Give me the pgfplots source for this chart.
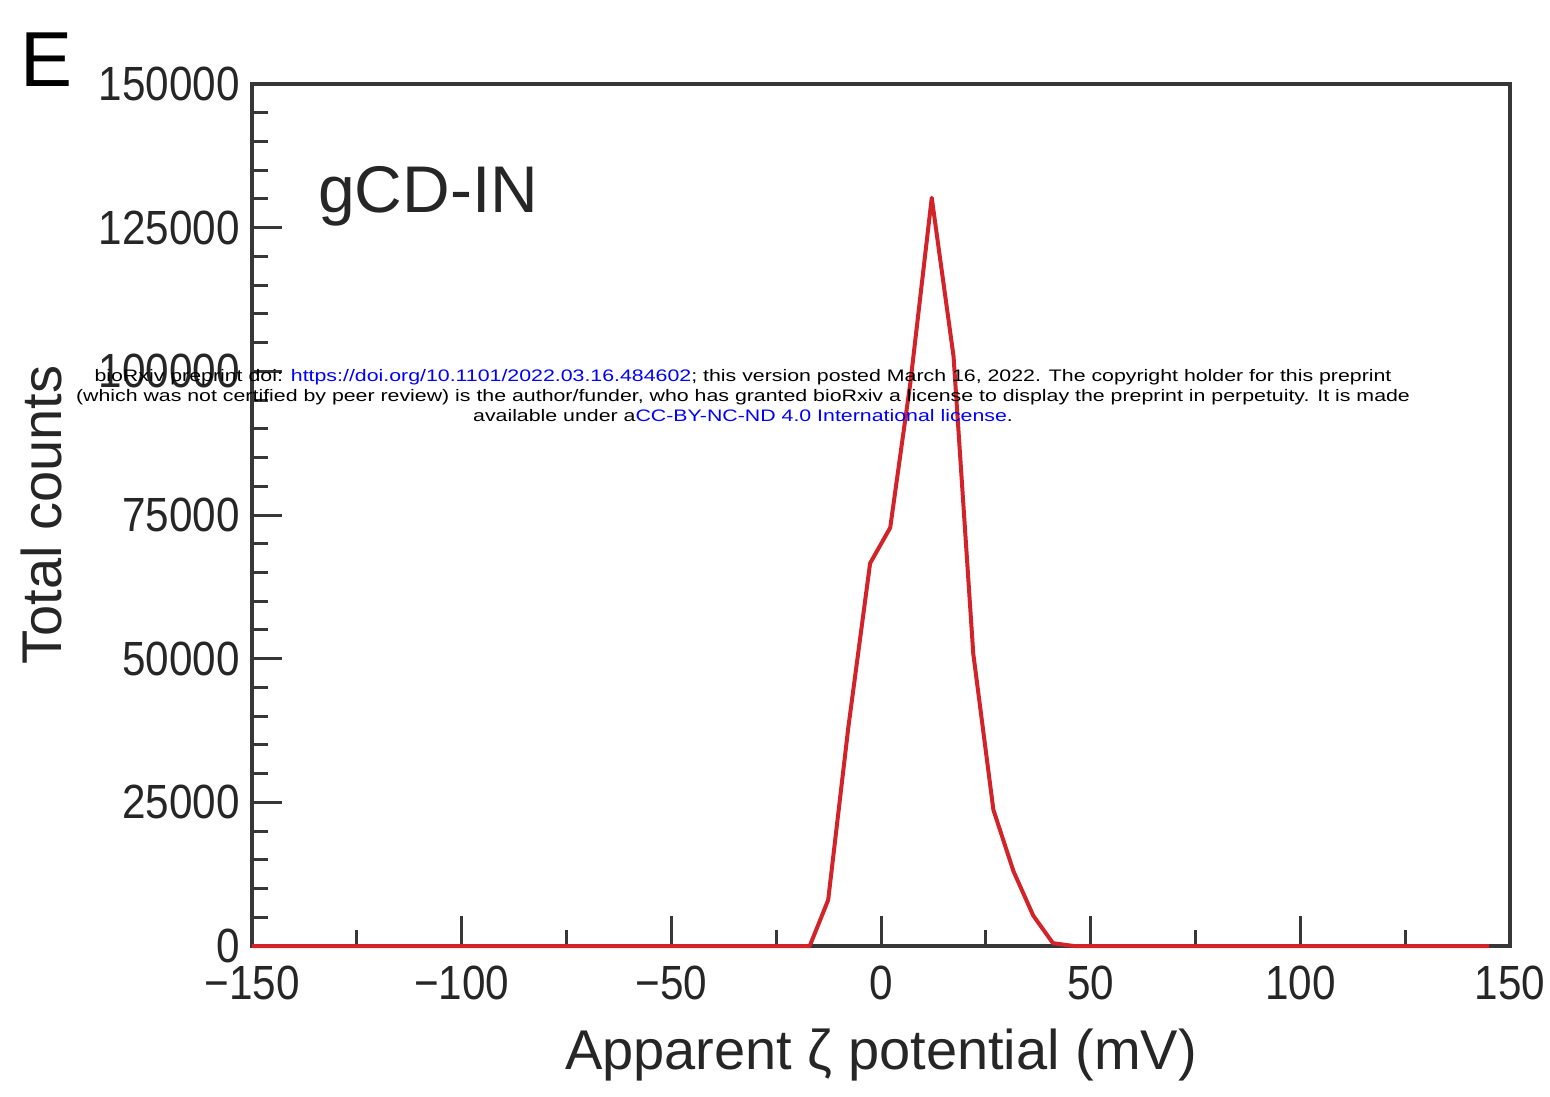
\documentclass[border=0pt]{standalone}
\usepackage{pgfplots}
\pgfplotsset{compat=1.18}
\usepackage{fontspec}
\setmainfont{Liberation Sans}
\definecolor{curvered}{RGB}{210,35,40}
\definecolor{axgray}{RGB}{55,55,55}
\definecolor{linkblue}{RGB}{0,0,255}
\begin{document}
\begin{tikzpicture}
\path[use as bounding box] (-63pt,-37.5pt) rectangle (324.5pt,236.5pt);
\begin{axis}[
  at={(0pt,0pt)}, anchor=south west,
  scale only axis, width=314.5pt, height=215.5pt,
  xmin=-150, xmax=150, ymin=0, ymax=150000,
  xtick={-150,-100,-50,0,50,100,150},
  xticklabels={−150,−100,−50,0,50,100,150},
  ytick={0,25000,50000,75000,100000,125000,150000},
  yticklabels={0,25000,50000,75000,100000,125000,150000},
  minor x tick num=1, minor y tick num=4,
  xtick pos=bottom, ytick pos=left,
  tick align=inside,
  major tick length=7.5pt, minor tick length=4pt,
  every tick/.style={axgray, line width=0.75pt},
  axis line style={axgray, line width=1pt},
  tick label style={font=\fontsize{12}{12}\selectfont, text=black!85, xscale=0.88},
  xticklabel style={yshift=-1.5pt},
  xlabel={Apparent ζ potential (mV)},
  ylabel={Total counts},
  label style={font=\fontsize{14}{14}\selectfont, text=black!85},
  xlabel style={at={(axis description cs:0.5,-0.1265)}, anchor=center},
  ylabel style={at={(axis description cs:-0.167,0.5)}, anchor=center},
  scaled y ticks=false,
  clip=false,
]
\addplot[curvered, line width=1pt, line join=round] coordinates {
(-150,0) (-17,0) (-12.6,8000) (-7.8,38000) (-2.6,66600) (2.2,72800) (7,98000)
(12.1,130200) (17.3,102600) (22,50900) (26.8,23700) (31.6,13000) (36.3,5300)
(41,500) (46,0) (145,0)
};
\node[anchor=base west, font=\fontsize{16.5}{16.5}\selectfont, text=black!85] at (axis cs:-137.6,127700) {gCD-IN};
\node[inner sep=0pt] at (axis cs:-32.9,95500) {\resizebox*{333.5pt}{15pt}{\begin{tabular}{@{}c@{}}
bioRxiv preprint doi: \textcolor{linkblue}{https://doi.org/10.1101/2022.03.16.484602}; this version posted March 16, 2022. The copyright holder for this preprint\\
(which was not certified by peer review) is the author/funder, who has granted bioRxiv a license to display the preprint in perpetuity. It is made\\
available under a\textcolor{linkblue}{CC-BY-NC-ND 4.0 International license}.
\end{tabular}}};
\end{axis}
\node[font=\fontsize{19.5}{19.5}\selectfont, inner sep=0pt] at (-51.25pt,221.5pt) {E};
\end{tikzpicture}
\end{document}
